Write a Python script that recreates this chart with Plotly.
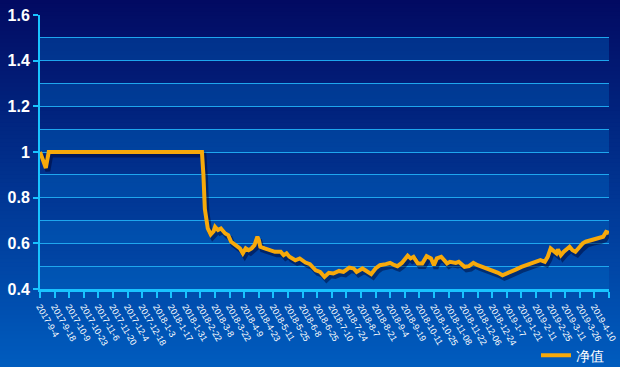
import plotly.graph_objects as go

# ---- data ----
tick_labels = [
    "2017-9-4", "2017-9-18", "2017-10-9", "2017-10-23", "2017-11-6", "2017-11-20",
    "2017-12-4", "2017-12-18", "2018-1-3", "2018-1-17", "2018-1-31", "2018-2-22",
    "2018-3-8", "2018-3-22", "2018-4-9", "2018-4-23", "2018-5-11", "2018-5-25",
    "2018-6-8", "2018-6-25", "2018-7-10", "2018-7-24", "2018-8-7", "2018-8-21",
    "2018-9-4", "2018-9-19", "2018-10-11", "2018-10-25", "2018-11-08", "2018-11-22",
    "2018-12-06", "2018-12-24", "2019-1-7", "2019-1-21", "2019-2-11", "2019-2-25",
    "2019-3-11", "2019-3-26", "2019-4-10", "",
]
tick_positions = list(range(0, 400, 10))
y_tick_values = [0.4, 0.6, 0.8, 1.0, 1.2, 1.4, 1.6]
y_tick_labels = ["0.4", "0.6", "0.8", "1", "1.2", "1.4", "1.6"]

day_index = [
    0, 2, 4, 6, 20, 40, 60, 80, 100, 111, 112, 113, 115, 117, 119, 120, 122, 124,
    127, 129, 131, 135, 137, 139, 141, 143, 145, 147, 149, 150, 151, 154, 158,
    161, 165, 167, 169, 171, 175, 178, 182, 185, 189, 192, 195, 198, 201, 205,
    208, 212, 215, 217, 221, 224, 227, 230, 233, 237, 240, 243, 245, 248, 252,
    254, 256, 259, 262, 265, 268, 270, 272, 275, 277, 279, 281, 285, 287, 291,
    294, 297, 300, 303, 307, 310, 314, 317, 320, 324, 326, 330, 333, 336, 340,
    343, 346, 348, 350, 352, 354, 355, 357, 359, 363, 365, 367, 370, 372, 374,
    378, 381, 383, 386, 388, 390,
]
nav = [
    1.0, 0.97, 0.93, 1.0, 1.0, 1.0, 1.0, 1.0, 1.0, 1.0, 0.9, 0.75, 0.665, 0.639,
    0.653, 0.672, 0.658, 0.665, 0.643, 0.636, 0.607, 0.585, 0.578, 0.556, 0.578,
    0.57, 0.578, 0.592, 0.629, 0.614, 0.585, 0.578, 0.57, 0.563, 0.563, 0.548,
    0.556, 0.541, 0.526, 0.534, 0.516, 0.509, 0.482, 0.475, 0.453, 0.471, 0.468,
    0.479, 0.475, 0.494, 0.49, 0.475, 0.49, 0.475, 0.465, 0.49, 0.504, 0.509,
    0.514, 0.504, 0.5, 0.514, 0.546, 0.534, 0.541, 0.512, 0.512, 0.544, 0.534,
    0.504, 0.534, 0.541, 0.526, 0.512, 0.519, 0.514, 0.519, 0.497, 0.5, 0.514,
    0.504, 0.497, 0.49, 0.482, 0.471, 0.46, 0.468, 0.475, 0.485, 0.497, 0.504,
    0.514, 0.519, 0.526, 0.519, 0.541, 0.578, 0.567, 0.556, 0.573, 0.548, 0.563,
    0.585, 0.57, 0.563, 0.585, 0.6, 0.607, 0.614, 0.617, 0.621, 0.629, 0.65, 0.646,
]
series_name = "净值"

# ---- figure ----
fig = go.Figure()
# soft drop shadow of the line (same data, on an overlaid axis pair offset by a few px)
fig.add_trace(go.Scatter(
    x=day_index, y=nav, mode="lines", showlegend=False, hoverinfo="skip",
    line=dict(color="rgba(0,0,40,0.45)", width=5), xaxis="x2", yaxis="y2",
))
fig.add_trace(go.Scatter(
    x=day_index, y=nav, mode="lines", name=series_name,
    line=dict(color="#f7a90a", width=4), xaxis="x3", yaxis="y3",
))

H_PLOT = 367 - 15 - 78
W_PLOT = 620 - 40 - 11
shapes = []
n = 92
top = (2, 10, 98)
bot = (0, 92, 190)
y0p, y1p = -78 / H_PLOT, 1 + 15 / H_PLOT
for i in range(n):
    t = i / (n - 1)
    c = tuple(round(top[k] + (bot[k] - top[k]) * t) for k in range(3))
    ya = y1p - (y1p - y0p) * i / n
    yb = y1p - (y1p - y0p) * (i + 1) / n
    shapes.append(dict(type="rect", xref="paper", yref="paper",
                       x0=-0.2, x1=1.2, y0=yb - 0.003, y1=ya + 0.003,
                       fillcolor="rgb(%d,%d,%d)" % c, line=dict(width=0),
                       layer="below"))
for lo in [0.4, 0.6, 0.8, 1.0, 1.2, 1.4]:
    shapes.append(dict(type="rect", xref="paper", yref="y", x0=0, x1=1,
                       y0=lo, y1=lo + 0.1, fillcolor="rgba(0,110,200,0.35)",
                       line=dict(width=0), layer="below"))

x_range = [0, 390]
y_range = [0.4, 1.6]
dx = 2 * (x_range[1] - x_range[0]) / W_PLOT
dy = 3 * (y_range[1] - y_range[0]) / H_PLOT

axis_color = "#19c3ff"
fig.update_layout(
    width=620, height=367,
    margin=dict(l=40, r=11, t=15, b=78, autoexpand=False),
    paper_bgcolor="#01307f", plot_bgcolor="rgba(0,0,0,0)",
    shapes=shapes,
    font=dict(family="Arial, Liberation Sans, sans-serif", color="white"),
    showlegend=True,
    legend=dict(orientation="h", x=1.0, xanchor="right", y=-0.185, yanchor="top",
                font=dict(size=14, color="white"), bgcolor="rgba(0,0,0,0)"),
    xaxis=dict(
        range=x_range, tickmode="array", tickvals=tick_positions, ticktext=tick_labels,
        tickangle=60, tickfont=dict(size=9, color="white"), automargin=False,
        showgrid=False, zeroline=False,
        showline=True, linecolor=axis_color, linewidth=3,
        ticks="outside", ticklen=6, tickwidth=2, tickcolor=axis_color,
    ),
    yaxis=dict(
        range=y_range, tickmode="array", tickvals=y_tick_values, ticktext=y_tick_labels,
        tickfont=dict(size=16, color="white", weight="bold"), automargin=False,
        showgrid=True, gridcolor="#1ea6ee", gridwidth=1,
        minor=dict(dtick=0.1, showgrid=True, gridcolor="#1ea6ee", gridwidth=1),
        zeroline=False, showline=True, linecolor=axis_color, linewidth=2,
        ticks="outside", ticklen=5, tickwidth=2, tickcolor=axis_color,
    ),
    xaxis2=dict(overlaying="x", visible=False, range=[x_range[0] - dx, x_range[1] - dx]),
    yaxis2=dict(overlaying="y", visible=False, range=[y_range[0] + dy, y_range[1] + dy]),
    xaxis3=dict(overlaying="x", visible=False, range=x_range),
    yaxis3=dict(overlaying="y", visible=False, range=y_range),
)

fig.write_html(
    "out.html",
    config={"displayModeBar": False},
    post_script="document.body.style.margin='0';document.body.style.overflow='hidden';",
)
